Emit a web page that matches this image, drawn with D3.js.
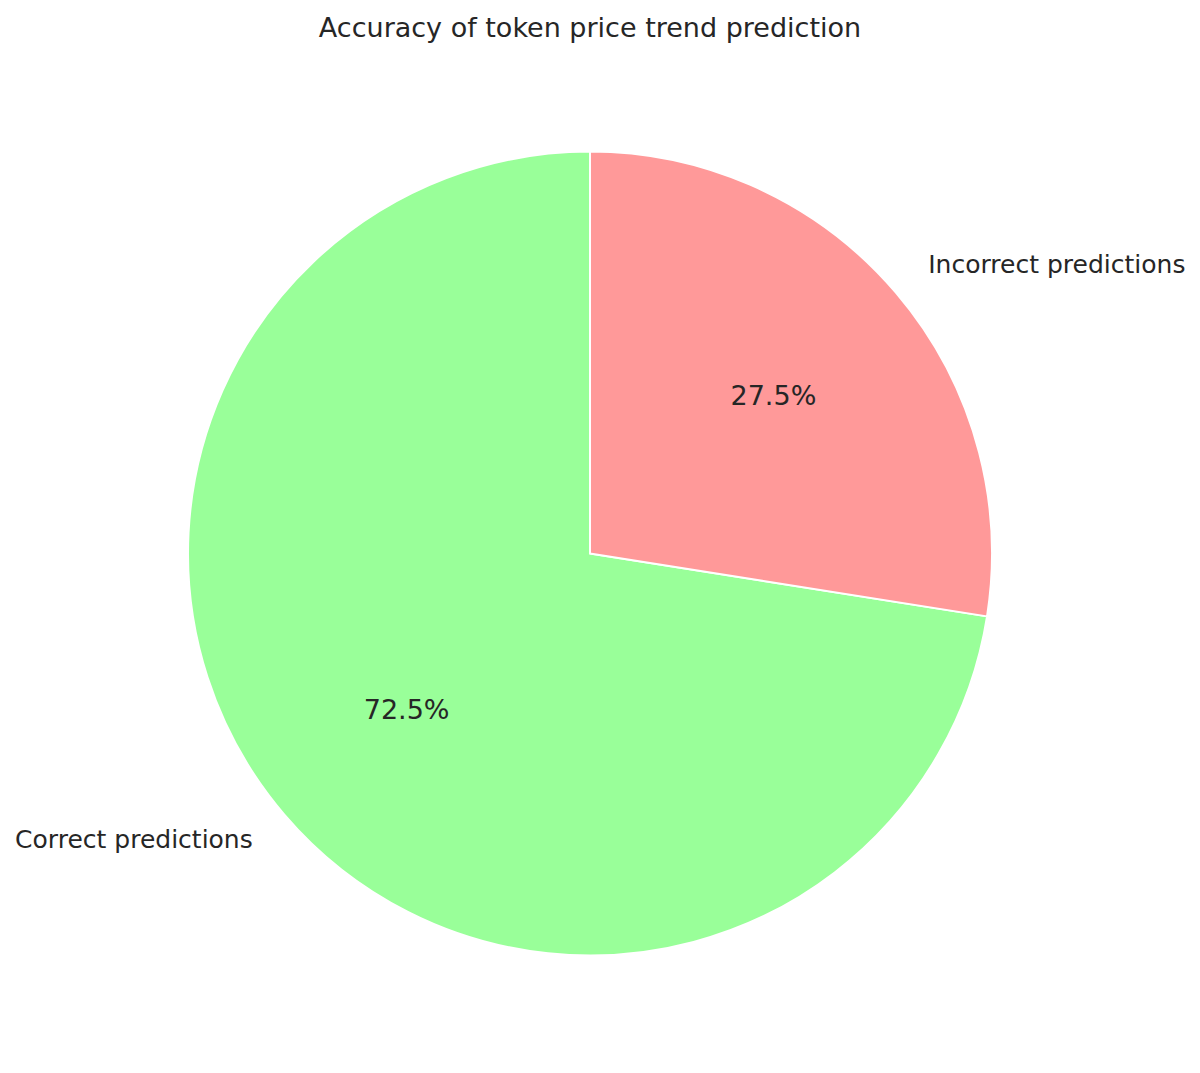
<!DOCTYPE html>
<html>
<head>
<meta charset="utf-8">
<script src="https://cdn.jsdelivr.net/npm/d3@7"></script>
<style>
  body { margin: 0; background: #fff; }
  text { font-family: "DejaVu Sans", sans-serif; fill: #262626; }
</style>
</head>
<body>
<svg id="chart" width="1200" height="1073"></svg>
<script>
// Data
const labels = ["Correct predictions", "Incorrect predictions"];
const shares = [72.5, 27.5];
const colors = ["#99ff99", "#ff9999"];
const title = "Accuracy of token price trend prediction";

const width = 1200, height = 1073;
const cx = 590, cy = 553.5, radius = 402;

const svg = d3.select("#chart");

svg.append("text")
    .attr("x", cx)
    .attr("y", 27)
    .attr("text-anchor", "middle")
    .attr("dominant-baseline", "central")
    .style("font-size", "27px")
    .text(title);

const data = labels.map((l, i) => ({ label: l, value: shares[i], color: colors[i] }));

// counter-clockwise from the top, like matplotlib startangle=90
const pie = d3.pie()
    .value(d => d.value)
    .sort(null)
    .startAngle(0)
    .endAngle(-2 * Math.PI);

const arcs = pie(data);
const arc = d3.arc().innerRadius(0).outerRadius(radius);

const g = svg.append("g").attr("transform", `translate(${cx},${cy})`);

g.selectAll("path.slice")
    .data(arcs)
    .join("path")
    .attr("class", "slice")
    .attr("d", arc)
    .attr("fill", d => d.data.color)
    .attr("stroke", "#fff")
    .attr("stroke-width", 2)
    .attr("stroke-linejoin", "round");

const pos = (d, k) => {
    const a = (d.startAngle + d.endAngle) / 2;
    return [Math.sin(a) * radius * k, -Math.cos(a) * radius * k];
};

// outer labels
g.selectAll("text.label")
    .data(arcs)
    .join("text")
    .attr("class", "label")
    .attr("x", d => pos(d, 1.1)[0] + (pos(d, 1.1)[0] < 0 ? -1 : 2))
    .attr("y", d => pos(d, 1.1)[1] - 1.5)
    .attr("text-anchor", d => pos(d, 1.1)[0] < 0 ? "end" : "start")
    .attr("dominant-baseline", "central")
    .style("font-size", "25px")
    .text(d => d.data.label);

// percentage labels
g.selectAll("text.pct")
    .data(arcs)
    .join("text")
    .attr("class", "pct")
    .attr("x", d => pos(d, 0.6)[0])
    .attr("y", d => pos(d, 0.6)[1] - 1)
    .attr("text-anchor", "middle")
    .attr("dominant-baseline", "central")
    .style("font-size", "27px")
    .text(d => d.data.value.toFixed(1) + "%");
</script>
</body>
</html>
